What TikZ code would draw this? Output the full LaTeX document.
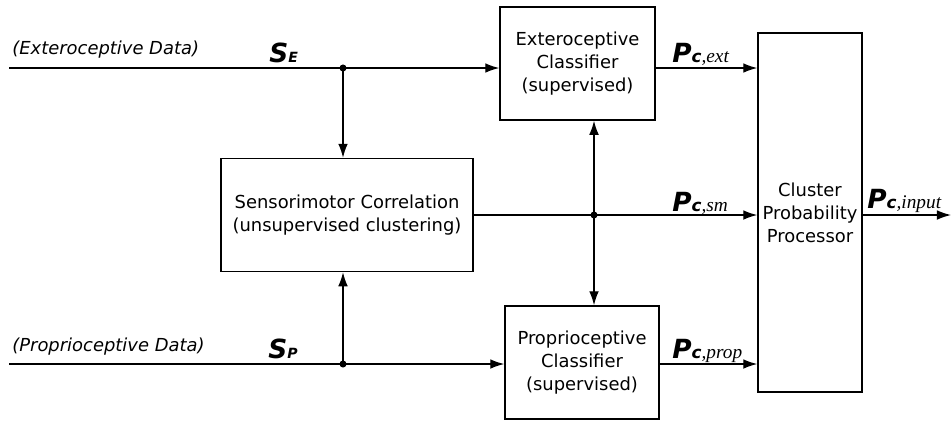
\documentclass[tikz,border=0pt]{standalone}
\usepackage{fontspec}
\setmainfont{DejaVu Sans}
\newfontfamily\serifit{Liberation Serif}
\usetikzlibrary{arrows.meta}

\tikzset{
  blk/.style={draw, line width=0.8pt, align=center, inner sep=0pt,
    font=\fontsize{10.2}{13.2}\selectfont},
  wire/.style={line width=0.8pt},
  sig/.style={line width=0.8pt, -{Latex[length=8pt,width=5.5pt]}},
  jdot/.style={circle, fill, inner sep=0pt, minimum size=4pt},
  sym/.style={anchor=base west, inner sep=0pt}
}
\newcommand{\ssym}[1]{{\fontsize{15}{15}\selectfont\bfseries\itshape S}{\fontsize{8}{8}\selectfont\bfseries\itshape #1}}
\newcommand{\psym}[1]{{\fontsize{15}{15}\selectfont\bfseries\itshape P}{\fontsize{9.5}{9.5}\selectfont\bfseries\itshape c}{\fontsize{11}{11}\selectfont\serifit\itshape ,#1}}

\begin{document}
\begin{tikzpicture}[x=0.02cm, y=-0.02cm]
  \useasboundingbox (0,0) rectangle (952,424);

  % blocchi
  \node[blk, minimum width=3.1cm, minimum height=2.26cm] (ext) at (577.5,63.5)
    {Exteroceptive\\Classifier\\(supervised)};
  \node[blk, minimum width=5.04cm, minimum height=2.26cm] (sm) at (347,215)
    {Sensorimotor Correlation\\(unsupervised clustering)};
  \node[blk, minimum width=3.08cm, minimum height=2.26cm] (prop) at (582,362.5)
    {Proprioceptive\\Classifier\\(supervised)};
  \node[blk, minimum width=2.08cm, minimum height=7.18cm] (clu) at (810,212.5)
    {Cluster\\Probability\\Processor};

  % punti
  \coordinate (inE) at (9,68);
  \coordinate (inP) at (9,364);
  \coordinate (outP) at (951,215);
  \node[jdot] (jE) at (343,68) {};
  \node[jdot] (jP) at (343,364) {};
  \node[jdot] (jM) at (594,215) {};

  % ingressi
  \draw[wire] (inE) -- (jE.center);
  \draw[sig] (jE.center) -- (jE.center -| ext.west);
  \draw[sig] (jE.center) -- (jE.center |- sm.north);
  \draw[wire] (inP) -- (jP.center);
  \draw[sig] (jP.center) -- (jP.center -| prop.west);
  \draw[sig] (jP.center) -- (jP.center |- sm.south);

  % correlazione
  \draw[wire] (sm.east |- jM.center) -- (jM.center);
  \draw[sig] (jM.center) -- (jM.center -| clu.west);
  \draw[sig] (jM.center) -- (jM.center |- ext.south);
  \draw[sig] (jM.center) -- (jM.center |- prop.north);

  % classificatori
  \draw[sig] (ext.east |- jE.center) -- (jE.center -| clu.west);
  \draw[sig] (prop.east |- jP.center) -- (jP.center -| clu.west);
  \draw[sig] (clu.east |- outP) -- (outP);

  % etichette
  \node[anchor=west, inner sep=0pt, font=\fontsize{10.2}{12}\selectfont\itshape] (lblE) at (12,50) {(Exteroceptive Data)};
  \node[anchor=west, inner sep=0pt, font=\fontsize{10.2}{12}\selectfont\itshape] (lblP) at (12,347) {(Proprioceptive Data)};
  \node[sym] (sE) at (269,62) {\ssym{E}};
  \node[sym] (sP) at (268,358) {\ssym{P}};
  \node[sym] (pExt) at (672,62) {\psym{ext}};
  \node[sym] (pSm) at (672,211) {\psym{sm}};
  \node[sym] (pProp) at (672,358) {\psym{prop}};
  \node[sym] (pIn) at (867,208) {\psym{input}};
\end{tikzpicture}
\end{document}
